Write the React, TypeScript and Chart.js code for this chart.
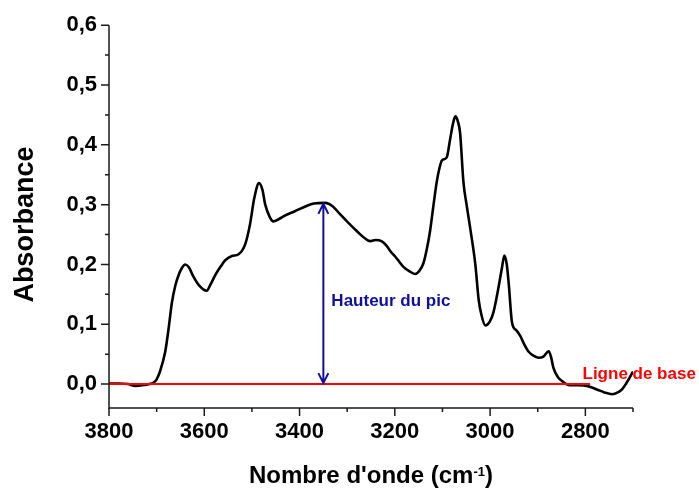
import React, { useEffect, useRef } from 'react';
import { Chart, registerables } from 'chart.js';

Chart.register(...registerables);

// Spectrum (wavenumber in cm-1, absorbance)
const wavenumbers = [
  3800, 3780, 3760, 3745, 3730, 3715, 3707, 3700, 3693, 3682, 3675, 3668, 3661, 3654, 3647, 3640,
  3632, 3623, 3610, 3595, 3586, 3577, 3566, 3556, 3542, 3528, 3514, 3504, 3495, 3485, 3478, 3472,
  3463, 3455, 3443, 3430, 3410, 3388, 3370, 3346, 3330, 3315, 3298, 3280, 3265, 3252, 3240, 3228,
  3218, 3210, 3196, 3182, 3168, 3157, 3148, 3140, 3133, 3126, 3119, 3112, 3106, 3101, 3091, 3084,
  3078, 3073, 3068, 3063, 3056, 3049, 3042, 3031, 3024, 3018, 3010, 3001, 2993, 2982, 2975, 2970,
  2965, 2961, 2954, 2945, 2937, 2928, 2919, 2908, 2898, 2888, 2877, 2872, 2867, 2858, 2849, 2840,
  2832, 2815, 2797, 2776, 2760, 2744, 2730, 2723, 2709, 2700,
];
const absorbance = [
  0.001, 0.001, 0.0, -0.003, -0.002, 0.0, 0.002, 0.008, 0.021, 0.054, 0.092, 0.136, 0.164, 0.182, 0.194, 0.2,
  0.195, 0.18, 0.164, 0.156, 0.168, 0.182, 0.196, 0.207, 0.214, 0.217, 0.234, 0.267, 0.311, 0.336, 0.325, 0.3,
  0.28, 0.272, 0.276, 0.282, 0.289, 0.297, 0.302, 0.303, 0.297, 0.284, 0.27, 0.256, 0.245, 0.239, 0.241, 0.239,
  0.232, 0.223, 0.21, 0.196, 0.188, 0.184, 0.19, 0.202, 0.225, 0.256, 0.298, 0.338, 0.362, 0.374, 0.379, 0.409,
  0.435, 0.4475, 0.44, 0.42, 0.338, 0.298, 0.262, 0.2, 0.141, 0.115, 0.098, 0.104, 0.12, 0.163, 0.195, 0.215,
  0.2, 0.169, 0.103, 0.09, 0.081, 0.066, 0.054, 0.047, 0.044, 0.046, 0.055, 0.045, 0.027, 0.012, 0.005, 0.0,
  -0.002, -0.002, -0.003, -0.009, -0.014, -0.017, -0.013, -0.009, 0.008, 0.021,
];

// Baseline (red line)
const baselineX = [3800, 2790];
const baselineY = [0, 0];

// Peak height annotation
const peakX = 3350;
const peakY = 0.303;

// Axis ticks
const xTicks = [3800, 3600, 3400, 3200, 3000, 2800];
const xTickLabels = ['3800', '3600', '3400', '3200', '3000', '2800'];
const xMinorTicks = [3700, 3500, 3300, 3100, 2900, 2700];
const yTicks = [0, 0.1, 0.2, 0.3, 0.4, 0.5, 0.6];
const yTickLabels = ['0,0', '0,1', '0,2', '0,3', '0,4', '0,5', '0,6'];
const yMinorTicks = [0.05, 0.15, 0.25, 0.35, 0.45, 0.55];

const xTitleMain = "Nombre d'onde (cm";
const xTitleSup = '-1';
const xTitleEnd = ')';
const yTitle = 'Absorbance';
const peakLabel = 'Hauteur du pic';
const baseLabel = 'Ligne de base';

const BLUE = '#10109c';
const RED = '#ff0000';
const AXIS = '#1a1a1a';
const ARIAL = '"Liberation Sans", Arial, sans-serif';

const decorPlugin = {
  id: 'decor',
  beforeDatasetsDraw(chart: any) {
    const { ctx, scales } = chart;
    const xs = scales.x;
    const ys = scales.y;
    ctx.save();
    ctx.fillStyle = RED;
    ctx.font = `bold 17px ${ARIAL}`;
    ctx.textAlign = 'left';
    ctx.textBaseline = 'alphabetic';
    ctx.fillText(baseLabel, xs.getPixelForValue(2806), ys.getPixelForValue(0) - 5);
    ctx.restore();
  },
  afterDraw(chart: any) {
    const { ctx, scales, chartArea } = chart;
    const xs = scales.x;
    const ys = scales.y;
    const { left, right, top, bottom } = chartArea;
    ctx.save();
    // axis lines
    ctx.strokeStyle = AXIS;
    ctx.lineWidth = 1.5;
    ctx.beginPath();
    ctx.moveTo(left, top);
    ctx.lineTo(left, bottom);
    ctx.lineTo(right, bottom);
    ctx.stroke();
    // ticks
    ctx.beginPath();
    yTicks.forEach((v) => {
      const y = ys.getPixelForValue(v);
      ctx.moveTo(left - 8, y);
      ctx.lineTo(left, y);
    });
    yMinorTicks.forEach((v) => {
      const y = ys.getPixelForValue(v);
      ctx.moveTo(left - 4, y);
      ctx.lineTo(left, y);
    });
    xTicks.forEach((v) => {
      const x = xs.getPixelForValue(v);
      ctx.moveTo(x, bottom);
      ctx.lineTo(x, bottom + 8);
    });
    xMinorTicks.forEach((v) => {
      const x = xs.getPixelForValue(v);
      ctx.moveTo(x, bottom);
      ctx.lineTo(x, bottom + 4);
    });
    ctx.stroke();

    // arrow
    const ax = xs.getPixelForValue(peakX);
    const ay1 = ys.getPixelForValue(peakY);
    const ay2 = ys.getPixelForValue(0);
    ctx.strokeStyle = BLUE;
    ctx.lineWidth = 2;
    ctx.beginPath();
    ctx.moveTo(ax, ay1 + 1);
    ctx.lineTo(ax, ay2 - 1);
    ctx.moveTo(ax - 5, ay1 + 11);
    ctx.lineTo(ax, ay1 + 1);
    ctx.lineTo(ax + 5, ay1 + 11);
    ctx.moveTo(ax - 5, ay2 - 11);
    ctx.lineTo(ax, ay2 - 1);
    ctx.lineTo(ax + 5, ay2 - 11);
    ctx.stroke();

    ctx.fillStyle = BLUE;
    ctx.font = `bold 17px ${ARIAL}`;
    ctx.textAlign = 'left';
    ctx.textBaseline = 'alphabetic';
    ctx.fillText(peakLabel, ax + 8, ys.getPixelForValue(0.13));

    // y title
    ctx.fillStyle = '#000';
    ctx.save();
    ctx.translate(33, (top + bottom) / 2 + 8);
    ctx.rotate(-Math.PI / 2);
    ctx.font = `bold 27px ${ARIAL}`;
    ctx.textAlign = 'center';
    ctx.textBaseline = 'alphabetic';
    ctx.fillText(yTitle, 0, 0);
    ctx.restore();

    // x title with superscript
    ctx.textAlign = 'left';
    ctx.textBaseline = 'alphabetic';
    ctx.font = `bold 24px ${ARIAL}`;
    const w1 = ctx.measureText(xTitleMain).width;
    const w3 = ctx.measureText(xTitleEnd).width;
    ctx.font = `bold 13px ${ARIAL}`;
    const w2 = ctx.measureText(xTitleSup).width;
    const total = w1 + w2 + w3;
    let x0 = (left + right) / 2 - total / 2;
    const base = bottom + 75;
    ctx.font = `bold 24px ${ARIAL}`;
    ctx.fillText(xTitleMain, x0, base);
    x0 += w1;
    ctx.font = `bold 13px ${ARIAL}`;
    ctx.fillText(xTitleSup, x0, base - 7);
    x0 += w2;
    ctx.font = `bold 24px ${ARIAL}`;
    ctx.fillText(xTitleEnd, x0, base);
    ctx.restore();
  },
};

export default function App() {
  const canvasRef = useRef<HTMLCanvasElement | null>(null);

  useEffect(() => {
    if (!canvasRef.current) return;
    const chart = new Chart(canvasRef.current, {
      type: 'line',
      data: {
        datasets: [
          {
            label: 'Ligne de base',
            data: baselineX.map((x, i) => ({ x, y: baselineY[i] })),
            borderColor: RED,
            borderWidth: 2,
            pointRadius: 0,
            fill: false,
          },
          {
            label: 'Spectre',
            data: wavenumbers.map((x, i) => ({ x, y: absorbance[i] })),
            borderColor: '#000',
            borderWidth: 2.6,
            pointRadius: 0,
            fill: false,
            cubicInterpolationMode: 'monotone',
          },
        ],
      },
      options: {
        responsive: false,
        devicePixelRatio: 1,
        animation: false,
        layout: { padding: { top: 17, right: 66, left: 0, bottom: 0 } },
        plugins: { legend: { display: false }, tooltip: { enabled: false } },
        scales: {
          x: {
            type: 'linear',
            reverse: true,
            min: 2700,
            max: 3800,
            grid: { display: false, drawTicks: false },
            border: { display: false },
            afterBuildTicks: (s: any) => {
              s.ticks = xTicks.map((v) => ({ value: v }));
            },
            afterFit: (s: any) => {
              s.height = 86;
            },
            ticks: {
              padding: 11,
              autoSkip: false,
              maxRotation: 0,
              color: '#000',
              font: { family: '"Liberation Sans", Arial, sans-serif', weight: 'bold', size: 22 },
              callback: (v: any) => {
                const i = xTicks.indexOf(Number(v));
                return i >= 0 ? xTickLabels[i] : '';
              },
            },
          },
          y: {
            type: 'linear',
            min: -0.04,
            max: 0.6,
            grid: { display: false, drawTicks: false },
            border: { display: false },
            afterBuildTicks: (s: any) => {
              s.ticks = yTicks.map((v) => ({ value: v }));
            },
            afterFit: (s: any) => {
              s.width = 109;
            },
            ticks: {
              padding: 12,
              autoSkip: false,
              color: '#000',
              font: { family: '"Liberation Sans", Arial, sans-serif', weight: 'bold', size: 22 },
              callback: (v: any) => {
                const i = yTicks.findIndex((t) => Math.abs(t - Number(v)) < 1e-9);
                return i >= 0 ? yTickLabels[i] : '';
              },
            },
          },
        },
      },
      plugins: [decorPlugin],
    } as any);
    return () => chart.destroy();
  }, []);

  return (
    <div style={{ position: 'absolute', left: 0, top: 0, width: 699, height: 494, background: '#fff' }}>
      <canvas ref={canvasRef} width={699} height={494} style={{ display: 'block' }} />
    </div>
  );
}
